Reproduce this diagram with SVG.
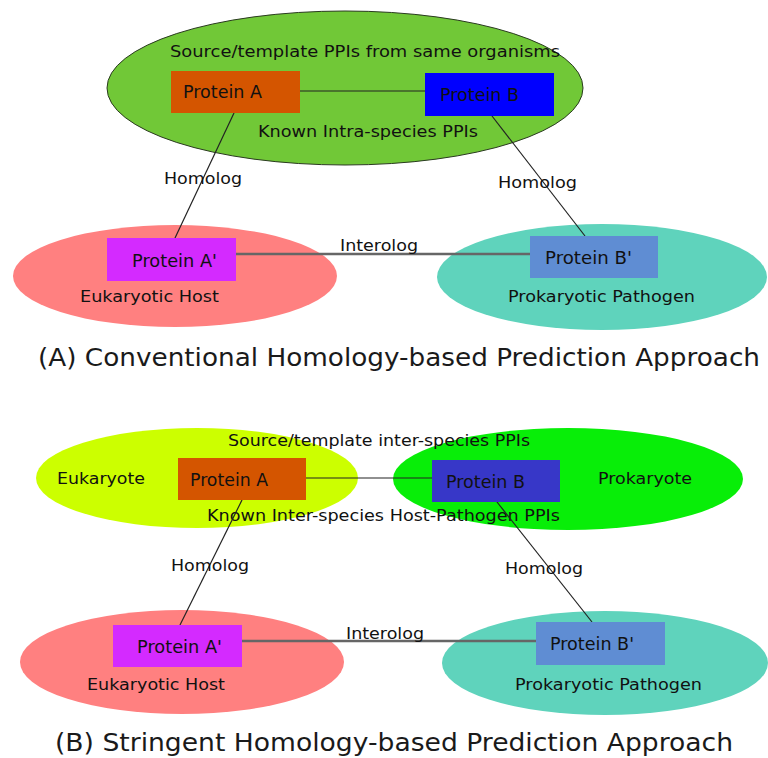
<svg xmlns="http://www.w3.org/2000/svg" width="768" height="758" viewBox="0 0 768 758">
<style>
text{font-family:"DejaVu Sans","Liberation Sans",sans-serif;fill:#111}
.lbl{font-size:16px}
.t{font-size:17px}
.title{font-size:24px;fill:#1a1a1a}
.conn{stroke:#222;stroke-width:1.2;fill:none}
.inter{stroke:#666;stroke-width:2.6;fill:none}
</style>
<rect width="768" height="758" fill="#fff"/>
<!-- Section A -->
<g id="sourceA">
<ellipse cx="345" cy="88" rx="238" ry="77" fill="#71c837" stroke="#2a3a20" stroke-width="1"/>
<text class="lbl" x="170" y="57" textLength="390" lengthAdjust="spacingAndGlyphs">Source/template  PPIs from same organisms</text>
<text class="lbl" x="258" y="137" textLength="220" lengthAdjust="spacingAndGlyphs">Known Intra-species PPIs</text>
</g>
<g id="hostA">
<ellipse cx="175" cy="276" rx="162" ry="51" fill="#ff8080"/>
<text class="lbl" x="80" y="302" textLength="139" lengthAdjust="spacingAndGlyphs">Eukaryotic Host</text>
</g>
<g id="pathA">
<ellipse cx="602" cy="277" rx="165" ry="53" fill="#5fd3bc"/>
<text class="lbl" x="508" y="302" textLength="187" lengthAdjust="spacingAndGlyphs">Prokaryotic Pathogen</text>
</g>
<g id="connA">
<line class="conn" x1="298" y1="91" x2="427" y2="91"/>
<line class="conn" x1="234" y1="113" x2="175" y2="238"/>
<line class="conn" x1="492" y1="116" x2="585" y2="236"/>
<line class="inter" x1="236" y1="254" x2="531" y2="254"/>
<text class="lbl" x="164" y="184" textLength="78" lengthAdjust="spacingAndGlyphs">Homolog</text>
<text class="lbl" x="498" y="188" textLength="79" lengthAdjust="spacingAndGlyphs">Homolog</text>
<text class="lbl" x="340" y="251" textLength="78" lengthAdjust="spacingAndGlyphs">Interolog</text>
</g>
<g id="protA_A">
<rect x="171" y="71" width="129" height="42" fill="#d45500"/>
<text class="t" x="183" y="98" textLength="79" lengthAdjust="spacingAndGlyphs">Protein A</text>
</g>
<g id="protB_A">
<rect x="425" y="73" width="129" height="43" fill="#0000ff"/>
<text class="t" x="440" y="101" textLength="79" lengthAdjust="spacingAndGlyphs">Protein B</text>
</g>
<g id="protAp_A">
<rect x="107" y="238" width="129" height="43" fill="#d42aff"/>
<text class="t" x="132" y="267" textLength="85" lengthAdjust="spacingAndGlyphs">Protein A'</text>
</g>
<g id="protBp_A">
<rect x="530" y="236" width="128" height="42" fill="#5f8dd3"/>
<text class="t" x="545" y="264" textLength="87" lengthAdjust="spacingAndGlyphs">Protein B'</text>
</g>
<text class="title" x="38" y="366" textLength="722" lengthAdjust="spacingAndGlyphs">(A) Conventional Homology-based Prediction Approach</text>
<!-- Section B -->
<g id="eukB">
<ellipse cx="197" cy="478" rx="161" ry="50" fill="#ccff00"/>
<text class="lbl" x="57" y="484" textLength="88" lengthAdjust="spacingAndGlyphs">Eukaryote</text>
</g>
<g id="proB">
<ellipse cx="568" cy="479" rx="175" ry="51" fill="#08ee08"/>
<text class="lbl" x="598" y="484" textLength="94" lengthAdjust="spacingAndGlyphs">Prokaryote</text>
</g>
<g id="hostB">
<ellipse cx="182" cy="662" rx="162" ry="52" fill="#ff8080"/>
<text class="lbl" x="87" y="690" textLength="138" lengthAdjust="spacingAndGlyphs">Eukaryotic Host</text>
</g>
<g id="pathB">
<ellipse cx="605" cy="663" rx="163" ry="52" fill="#5fd3bc"/>
<text class="lbl" x="515" y="690" textLength="187" lengthAdjust="spacingAndGlyphs">Prokaryotic Pathogen</text>
</g>
<text class="lbl" x="228" y="446" textLength="302" lengthAdjust="spacingAndGlyphs">Source/template inter-species PPIs</text>
<text class="lbl" x="207" y="521" textLength="353" lengthAdjust="spacingAndGlyphs">Known Inter-species Host-Pathogen PPIs</text>
<g id="connB">
<line class="conn" x1="305" y1="478" x2="432" y2="478"/>
<line class="conn" x1="242" y1="500" x2="180" y2="625"/>
<line class="conn" x1="497" y1="502" x2="592" y2="622"/>
<line class="inter" x1="242" y1="641" x2="537" y2="641"/>
<text class="lbl" x="171" y="571" textLength="78" lengthAdjust="spacingAndGlyphs">Homolog</text>
<text class="lbl" x="505" y="574" textLength="78" lengthAdjust="spacingAndGlyphs">Homolog</text>
<text class="lbl" x="346" y="639" textLength="78" lengthAdjust="spacingAndGlyphs">Interolog</text>
</g>
<g id="protA_B">
<rect x="178" y="458" width="128" height="42" fill="#d45500"/>
<text class="t" x="190" y="486" textLength="78" lengthAdjust="spacingAndGlyphs">Protein A</text>
</g>
<g id="protB_B">
<rect x="432" y="460" width="128" height="42" fill="#3737c8"/>
<text class="t" x="446" y="488" textLength="79" lengthAdjust="spacingAndGlyphs">Protein B</text>
</g>
<g id="protAp_B">
<rect x="113" y="625" width="129" height="42" fill="#d42aff"/>
<text class="t" x="137" y="653" textLength="85" lengthAdjust="spacingAndGlyphs">Protein A'</text>
</g>
<g id="protBp_B">
<rect x="536" y="622" width="129" height="43" fill="#5f8dd3"/>
<text class="t" x="550" y="650" textLength="84" lengthAdjust="spacingAndGlyphs">Protein B'</text>
</g>
<text class="title" x="55" y="751" textLength="678" lengthAdjust="spacingAndGlyphs">(B) Stringent Homology-based Prediction Approach</text>
</svg>
